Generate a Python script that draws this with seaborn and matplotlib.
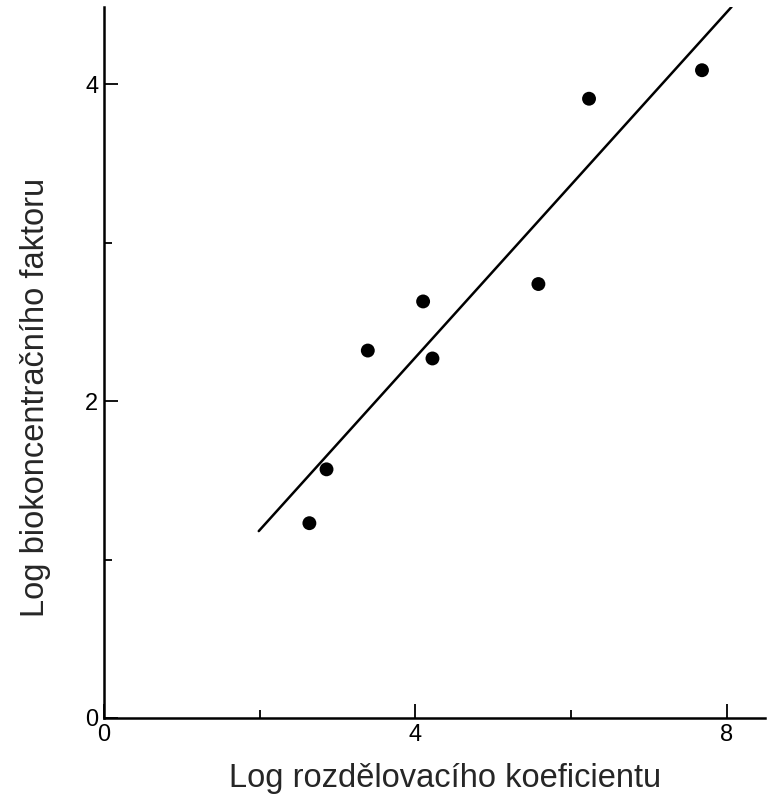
import numpy as np
import pandas as pd
import matplotlib
matplotlib.use("Agg")
import matplotlib.pyplot as plt
import seaborn as sns

# values
log_kow = [2.64, 2.86, 3.39, 4.10, 4.22, 5.58, 6.23, 7.68]
log_bcf = [1.23, 1.57, 2.32, 2.63, 2.27, 2.74, 3.91, 4.09]

# fitted line, two end points
fit_x = [1.99, 8.06]
fit_y = [1.18, 4.49]

x_major = [0, 4, 8]
x_minor = [2, 6]
y_major = [0, 2, 4]
y_minor = [1, 3]

df = pd.DataFrame({"kow": log_kow, "bcf": log_bcf})
fit = pd.DataFrame({"x": fit_x, "y": fit_y})

sns.set_theme(style="ticks")
plt.rcParams["font.family"] = ["Liberation Sans", "DejaVu Sans"]

fig = plt.figure(figsize=(7.69, 7.99), dpi=100)
ax = fig.add_axes([0.1349, 0.1014, 0.860, 0.890])

sns.lineplot(data=fit, x="x", y="y", ax=ax, color="black", linewidth=1.8)
sns.scatterplot(data=df, x="kow", y="bcf", ax=ax, color="black", s=100,
                edgecolor="none", zorder=3)

ax.set_xlim(0, 8.49)
ax.set_ylim(0, 4.49)

ax.set_xticks(x_major)
ax.set_xticks(x_minor, minor=True)
ax.set_yticks(y_major)
ax.set_yticks(y_minor, minor=True)
ax.tick_params(which="both", direction="in", colors="black", labelsize=17,
               width=1.3)
ax.tick_params(which="major", length=10, pad=4)
ax.tick_params(which="minor", length=6)

for s in ["top", "right"]:
    ax.spines[s].set_visible(False)
for s in ["left", "bottom"]:
    ax.spines[s].set_linewidth(1.8)
    ax.spines[s].set_color("black")

ax.set_xlabel("")
ax.set_ylabel("")
fig.text(0.579, 0.026, "Log rozdělovacího koeficientu", fontsize=23.5,
         ha="center", va="center")
fig.text(0.046, 0.503, "Log biokoncentračního faktoru", fontsize=23.5,
         ha="center", va="center", rotation=90)

fig.savefig("out.png", dpi=100)
